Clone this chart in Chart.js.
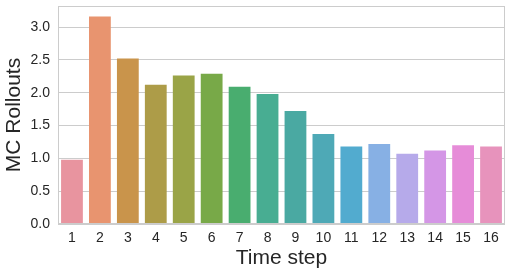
<!DOCTYPE html>
<html>
<head>
<meta charset="utf-8">
<script src="https://cdn.jsdelivr.net/npm/chart.js@4/dist/chart.umd.min.js"></script>
<style>
html,body{margin:0;padding:0;background:#fff;}
#wrap{width:511px;height:275px;}
</style>
</head>
<body>
<div id="wrap"><canvas id="c" width="511" height="275"></canvas></div>
<script>
const categories = ["1","2","3","4","5","6","7","8","9","10","11","12","13","14","15","16"];
const rollouts = [0.98,3.16,2.52,2.12,2.26,2.29,2.09,1.98,1.72,1.37,1.18,1.22,1.07,1.12,1.20,1.18];
const barColors = ["#e8949f","#e8946f","#c9944b","#ad9c48","#9aa447","#78a948","#49ad6f","#48ad92",
                   "#4aa9a2","#4ea9b6","#52abcf","#87b0e4","#b6aaea","#d496e6","#e68cd8","#e793bc"];
const yTickValues = [0,0.5,1.0,1.5,2.0,2.5,3.0];

const frame = {
  id:'frame',
  afterDraw(chart){
    const a = chart.chartArea, ctx = chart.ctx;
    ctx.save();
    ctx.strokeStyle = '#cccccc';
    ctx.lineWidth = 1;
    ctx.strokeRect(Math.round(a.left)+0.5, Math.round(a.top)+0.5, Math.round(a.right-a.left)-1, Math.round(a.bottom-a.top)-1);
    ctx.restore();
  }
};

new Chart(document.getElementById('c'), {
  type:'bar',
  data:{labels:categories, datasets:[{data:rollouts, backgroundColor:barColors, borderWidth:0,
        barPercentage:0.78, categoryPercentage:1.0}]},
  options:{
    responsive:false, animation:false,
    layout:{padding:{top:6,right:6,left:0,bottom:0}},
    plugins:{legend:{display:false}, tooltip:{enabled:false}},
    scales:{
      x:{
        grid:{display:false, drawTicks:false},
        border:{display:false},
        ticks:{color:'#262626', font:{family:'"Liberation Sans", Arial, sans-serif', size:14}, padding:6, maxRotation:0},
        title:{display:true, text:'Time step', color:'#262626',
               font:{family:'"Liberation Sans", Arial, sans-serif', size:21}, padding:{top:0,bottom:4}},
        afterFit(s){ s.height = 51; s.paddingLeft = 0; s.paddingRight = 0; }
      },
      y:{
        min:0, max:3.32,
        grid:{color:'#cccccc', drawTicks:false},
        border:{display:false},
        ticks:{color:'#262626', font:{family:'"Liberation Sans", Arial, sans-serif', size:14}, padding:8,
               callback:(v)=>v.toFixed(1)},
        afterBuildTicks(s){ s.ticks = yTickValues.map(v=>({value:v})); },
        title:{display:true, text:'MC Rollouts', color:'#262626',
               font:{family:'"Liberation Sans", Arial, sans-serif', size:21}, padding:{top:2,bottom:0}},
        afterFit(s){ s.width = 58; s.paddingTop = 0; s.paddingBottom = 0; }
      }
    }
  },
  plugins:[frame]
});
</script>
</body>
</html>
